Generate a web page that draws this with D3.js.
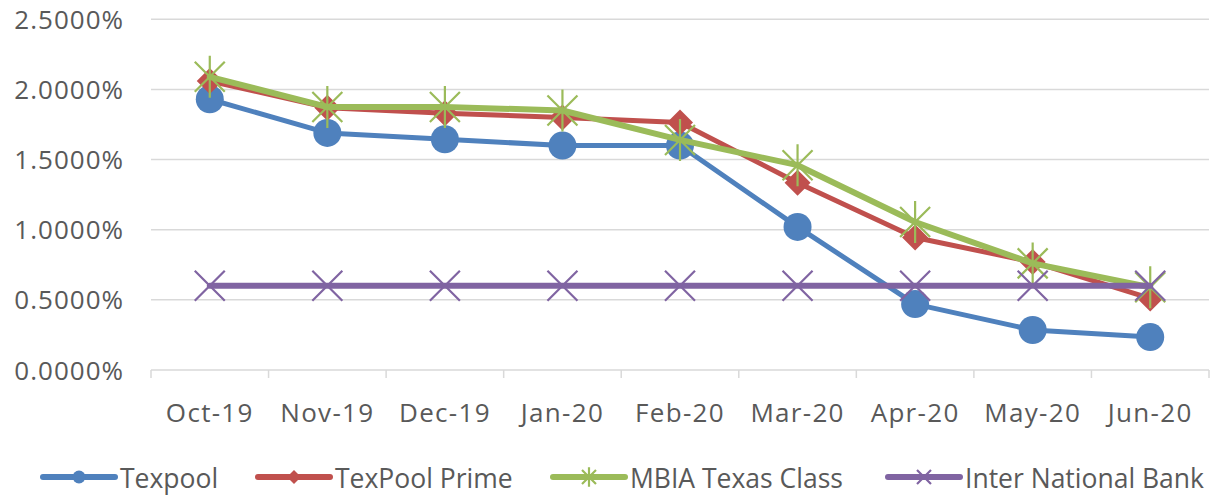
<!DOCTYPE html>
<html>
<head>
<meta charset="utf-8">
<script src="https://cdn.jsdelivr.net/npm/d3@7"></script>
<style>
    body { margin: 0; background: #fff; }
    svg text { font-family: "Open Sans", sans-serif; fill: #595959; }
</style>
</head>
<body>
<svg id="chart"></svg>
<script>
const months = ['Oct-19', 'Nov-19', 'Dec-19', 'Jan-20', 'Feb-20', 'Mar-20', 'Apr-20', 'May-20', 'Jun-20'];
const texpool = [0.0193, 0.0169, 0.01645, 0.0160, 0.0160, 0.0102, 0.0047, 0.00285, 0.00235];
const texpoolPrime = [0.0206, 0.0187, 0.0183, 0.0180, 0.01765, 0.01335, 0.00945, 0.0077, 0.0051];
const mbiaTexasClass = [0.0209, 0.01875, 0.01875, 0.0185, 0.0164, 0.0146, 0.01055, 0.0076, 0.0059];
const interNationalBank = [0.0060, 0.0060, 0.0060, 0.0060, 0.0060, 0.0060, 0.0060, 0.0060, 0.0060];
const yTicks = [0, 0.005, 0.01, 0.015, 0.02, 0.025];

const series = [
    { name: 'Texpool', values: texpool, color: '#4f81bd', width: 5, marker: 'circle' },
    { name: 'TexPool Prime', values: texpoolPrime, color: '#c0504d', width: 5, marker: 'diamond' },
    { name: 'MBIA Texas Class', values: mbiaTexasClass, color: '#9bbb59', width: 6, marker: 'star' },
    { name: 'Inter National Bank', values: interNationalBank, color: '#8064a2', width: 6, marker: 'x' }
];

const width = 1214, height = 496;
const plot = { left: 151, right: 1209, top: 19.3, bottom: 370 };

const svg = d3.select('#chart')
    .attr('width', width)
    .attr('height', height);

const x = d3.scaleBand()
    .domain(months)
    .range([plot.left, plot.right]);

const y = d3.scaleLinear()
    .domain([0, 0.025])
    .range([plot.bottom, plot.top]);

// gridlines
svg.append('g')
    .selectAll('line')
    .data(yTicks.filter(d => d > 0))
    .join('line')
    .attr('x1', plot.left)
    .attr('x2', plot.right)
    .attr('y1', d => y(d))
    .attr('y2', d => y(d))
    .attr('stroke', '#d9d9d9')
    .attr('stroke-width', 1.5);

// y axis labels
const yAxis = d3.axisLeft(y)
    .tickValues(yTicks)
    .tickFormat(d => (d * 100).toFixed(4) + '%')
    .tickSize(0)
    .tickPadding(0);

svg.append('g')
    .attr('transform', `translate(124,0)`)
    .call(yAxis)
    .call(g => g.select('.domain').remove())
    .call(g => g.selectAll('text')
        .attr('font-size', 26)
        .attr('letter-spacing', 1)
        .attr('dy', '0.35em')
        .style('font-family', '"Open Sans", sans-serif')
        .attr('fill', '#595959'));

// x axis
const xAxis = d3.axisBottom(x)
    .tickSize(0)
    .tickPadding(0);

const xAxisG = svg.append('g')
    .attr('transform', `translate(0,${plot.bottom})`)
    .call(xAxis);
xAxisG.select('.domain').remove();
xAxisG.selectAll('text')
    .attr('y', 52)
    .attr('dy', 0)
    .attr('font-size', 26)
    .attr('letter-spacing', 1.3)
    .style('font-family', '"Open Sans", sans-serif')
    .attr('fill', '#595959');

svg.append('line')
    .attr('x1', plot.left).attr('x2', plot.right)
    .attr('y1', plot.bottom).attr('y2', plot.bottom)
    .attr('stroke', '#d9d9d9').attr('stroke-width', 1.5);

svg.append('g')
    .selectAll('line')
    .data(d3.range(months.length + 1))
    .join('line')
    .attr('x1', i => plot.left + i * x.step())
    .attr('x2', i => plot.left + i * x.step())
    .attr('y1', plot.bottom)
    .attr('y2', plot.bottom + 8)
    .attr('stroke', '#d9d9d9')
    .attr('stroke-width', 1.5);

function drawMarker(g, type, color, s) {
    if (type === 'circle') {
        g.append('circle').attr('r', s).attr('fill', color);
    } else if (type === 'diamond') {
        g.append('path')
            .attr('d', `M0,${-s}L${s},0L0,${s}L${-s},0Z`)
            .attr('fill', color);
    } else if (type === 'star') {
        g.append('path')
            .attr('d', `M${-s},${-s}L${s},${s}M${-s},${s}L${s},${-s}M0,${-s * 1.4}L0,${s * 1.4}`)
            .attr('stroke', color)
            .attr('stroke-width', 2.2)
            .attr('fill', 'none');
    } else if (type === 'x') {
        g.append('path')
            .attr('d', `M${-s},${-s}L${s},${s}M${-s},${s}L${s},${-s}`)
            .attr('stroke', color)
            .attr('stroke-width', 2.2)
            .attr('fill', 'none');
    }
}

const markerSize = { circle: 14, diamond: 13, star: 15, x: 15 };
const legendMarkerSize = { circle: 6.5, diamond: 7, star: 7, x: 7 };

const line = d3.line()
    .x((d, i) => x(months[i]) + x.bandwidth() / 2)
    .y(d => y(d));

series.forEach(s => {
    const g = svg.append('g');
    g.append('path')
        .datum(s.values)
        .attr('d', line)
        .attr('fill', 'none')
        .attr('stroke', s.color)
        .attr('stroke-width', s.width)
        .attr('stroke-linejoin', 'round')
        .attr('stroke-linecap', 'round');

    g.selectAll('g.marker')
        .data(s.values)
        .join('g')
        .attr('class', 'marker')
        .attr('transform', (d, i) => `translate(${x(months[i]) + x.bandwidth() / 2},${y(d)})`)
        .each(function() { drawMarker(d3.select(this), s.marker, s.color, markerSize[s.marker]); });
});

// legend
const legendX = [43, 258, 553, 888];
const legendY = 477;
series.forEach((s, i) => {
    const g = svg.append('g').attr('transform', `translate(${legendX[i]},${legendY})`);
    g.append('line')
        .attr('x1', 0).attr('x2', 72)
        .attr('y1', 0).attr('y2', 0)
        .attr('stroke', s.color)
        .attr('stroke-width', 6)
        .attr('stroke-linecap', 'round');
    const m = g.append('g').attr('transform', 'translate(36,0)');
    drawMarker(m, s.marker, s.color, legendMarkerSize[s.marker]);
    g.append('text')
        .attr('x', 77)
        .attr('y', 11)
        .attr('font-size', 26.5)
        .text(s.name);
});
</script>
</body>
</html>
